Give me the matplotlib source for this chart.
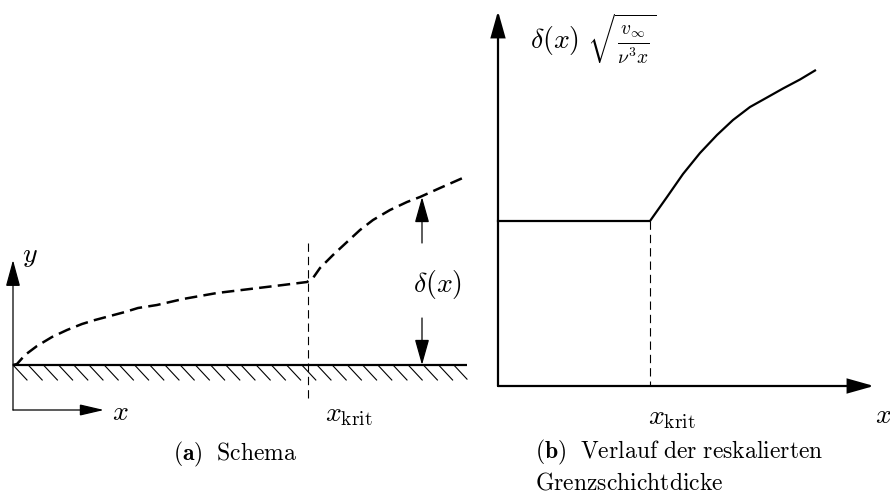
import numpy as np
import matplotlib
matplotlib.use("Agg")
import matplotlib.pyplot as plt

plt.rcParams['mathtext.fontset'] = 'cm'
plt.rcParams['lines.scale_dashes'] = False

# ---- data (schematic, figure pixel coordinates) ----
# (a) boundary layer thickness curve (dashed)
curve_a_x = [13, 17, 25, 37, 52, 67, 82, 95, 110, 125, 138, 157, 183, 217, 250, 283, 307,
             313, 320, 333, 347, 360, 373, 390, 407, 420, 440, 465]
curve_a_y = [365, 364, 355, 346, 337, 330, 324, 320, 316, 312, 308, 305, 299, 293, 289, 285, 282,
             278, 268, 255, 242, 230, 220, 210, 202, 197, 188, 177]
# (b) rescaled thickness: constant then rising
curve_b_x = [498, 650, 667, 683, 700, 717, 733, 750, 767, 783, 800, 815]
curve_b_y = [221, 221, 197, 174, 153, 135, 120, 107, 97.5, 88.5, 79.5, 70.5]

wall_x = [13, 467]
wall_y = 365
x_krit_a = 308
x_krit_b = 650

fig = plt.figure(figsize=(8.9, 4.94), dpi=100)
ax = fig.add_axes([0, 0, 1, 1])
ax.set_xlim(0, 890)
ax.set_ylim(494, 0)
ax.axis('off')

def arrow(tail, tip, lw=1.0, hl=1.6, hw=0.45):
    ax.annotate('', xy=tip, xytext=tail,
                arrowprops=dict(arrowstyle=f'-|>,head_length={hl},head_width={hw}',
                                lw=lw, color='k', shrinkA=0, shrinkB=0,
                                mutation_scale=10, joinstyle='miter'))

# ---------------- (a) Schema ----------------
ax.plot(wall_x, [wall_y, wall_y], color='k', lw=1.6, solid_capstyle='butt')
for hx in np.arange(wall_x[0], wall_x[1], 15.2):
    x0, x1 = hx, hx + 14
    y0, y1 = wall_y, wall_y + 15
    if x1 > wall_x[1]:
        y1 = y0 + (y1 - y0) * (wall_x[1] - x0) / (x1 - x0)
        x1 = wall_x[1]
    ax.plot([x0, x1], [y0, y1], color='k', lw=0.8)
arrow((13, 410), (13, 260), lw=0.9, hl=1.65, hw=0.45)
arrow((13, 410), (104, 410), lw=0.9, hl=1.5, hw=0.35)
ax.text(22, 255, r'$y$', fontsize=20, ha='left', va='center')
ax.text(112, 412, r'$x$', fontsize=20, ha='left', va='center')
ax.plot([x_krit_a, x_krit_a], [243, 402], color='k', lw=0.8, dashes=(6, 3.6))
ax.text(325, 414, r'$x_{\mathrm{krit}}$', fontsize=20, ha='left', va='center')
ax.plot(curve_a_x, curve_a_y, color='k', lw=1.8, dashes=(9, 4.5))
arrow((422, 243), (422, 197), lw=0.9, hl=1.6, hw=0.45)
arrow((422, 318), (422, 365), lw=0.9, hl=1.6, hw=0.45)
ax.text(413, 284, r'$\delta(x)$', fontsize=20, ha='left', va='center')
ax.text(235, 454, r'$\mathbf{(a)}\ \ \mathrm{Schema}$', fontsize=17, ha='center', va='center')

# ---------------- (b) rescaled ----------------
arrow((498, 386), (498, 11), lw=1.6, hl=1.6, hw=0.45)
arrow((498, 386), (874, 386), lw=1.6, hl=1.6, hw=0.45)
ax.plot(curve_b_x, curve_b_y, color='k', lw=1.6, solid_joinstyle='round')
ax.plot([x_krit_b, x_krit_b], [221, 386], color='k', lw=0.8, dashes=(6, 3.6))
ax.text(648, 417, r'$x_{\mathrm{krit}}$', fontsize=20, ha='left', va='center')
ax.text(875, 415, r'$x$', fontsize=20, ha='left', va='center')
ax.text(530, 39, r'$\delta(x)\ \sqrt{\frac{v_\infty}{\nu^3 x}}$', fontsize=20, ha='left', va='center')
ax.text(535, 452, r'$\mathbf{(b)}\ \ \mathrm{Verlauf\ der\ reskalierten}$', fontsize=17, ha='left', va='center')
ax.text(535, 482, r'$\mathrm{Grenzschichtdicke}$', fontsize=17, ha='left', va='center')

fig.savefig('out.png', dpi=100)
